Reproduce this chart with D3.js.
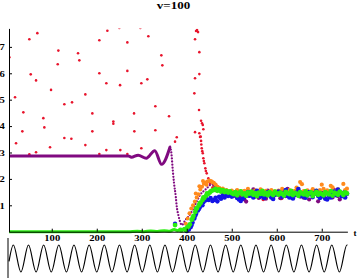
<!DOCTYPE html>
<html>
<head>
<meta charset="utf-8">
<script src="https://cdn.jsdelivr.net/npm/d3@7"></script>
<style>
  body { margin: 0; background: #fff; }
  svg { display: block; }
  text { font-family: "Liberation Serif", "DejaVu Serif", serif; font-weight: bold; }
</style>
</head>
<body>
<div id="root"></div>
<script>
const width = 360;
const height = 278;

// x tick labels / y tick labels
const xTicks = [100, 200, 300, 400, 500, 600, 700];
const yTicks = [1, 2, 3, 4, 5, 6, 7];

// red scattered points (t, value)
const redPts = [
  [5.8, 6.61], [68, 7.52], [50.2, 7.29], [114.7, 6.86], [113.3, 6.34], [53.3, 5.96], [65.1, 5.73],
  [18.4, 5.09], [98.4, 5.37], [36.9, 4.52], [128, 4.83], [145.1, 4.9], [158.4, 6.76], [161.3, 6.49],
  [174.7, 5.2], [190.2, 4.48], [205.8, 7.25], [223.6, 7.61], [205.8, 6.0], [221.3, 5.62], [250.2, 7.72],
  [296.9, 7.72], [268, 7.17], [268, 6.09], [251.8, 5.55], [314.7, 7.4], [299.1, 5.62], [312.4, 5.77],
  [343.6, 6.68], [345.8, 6.3], [330.2, 4.75], [360.7, 4.37], [236.9, 4.17], [236.9, 4.09], [282.9, 4.48],
  [81.3, 4.3], [83.6, 3.95], [34.7, 3.8], [128, 3.55], [143.6, 3.52], [190.2, 3.8], [283.6, 3.8],
  [330.2, 3.84], [20.7, 3.35], [50.2, 2.93], [65.1, 3.01], [96.2, 3.2], [174.7, 3.28], [205.8, 2.94],
  [221.3, 3.09], [252.4, 3.09], [268, 2.94], [299.1, 3.16], [314.7, 2.84], [374, 3.41], [377.8, 3.58],
  [418.4, 3.77], [427.3, 4.61], [429.6, 3.59]
];
// red fast drop
const redDrop = [
  [416.9, 5.24], [418.4, 5.81], [418.4, 7.29], [420.7, 7.6], [422.9, 7.64], [425.1, 7.56], [428, 6.8],
  [428, 5.97], [428, 3.73], [431.1, 3.6], [431.8, 4.2], [434, 4.11], [435.6, 4.04], [436.9, 3.88],
  [431.8, 3.44], [432.4, 3.3], [433.3, 3.16], [435.6, 2.97], [436.9, 2.78], [439.1, 2.59], [441.3, 2.4],
  [444.4, 2.21], [448, 2.02], [451.8, 1.83], [434.5, 3.05], [438, 2.68], [442.5, 2.3]
];
// red inside the band
const redBand = [
  [458, 1.66], [466, 1.55], [480, 1.48], [500, 1.4], [525, 1.45], [550, 1.38], [570, 1.22], [590, 1.45],
  [611, 1.26], [640, 1.42], [665, 1.5], [690, 1.4], [715, 1.46], [740, 1.38], [755, 1.44]
];

// purple: flat + oscillation, then fast drop
const purpleFlat = [
  [5, 2.87], [270, 2.87], [277, 2.82], [292, 2.9], [310, 2.78], [329, 3.07], [344, 2.55], [363, 3.22]
];
const purpleDrop = [
  [363, 3.22], [366, 2.95], [368.9, 2.34], [371.8, 1.83], [375.6, 1.33], [377.8, 0.95], [381.3, 0.63],
  [385.1, 0.38], [388.9, 0.25], [392.4, 0.3], [396.2, 0.42], [403.6, 0.57], [411.1, 0.76], [414.7, 0.89],
  [422.2, 1.14], [429.6, 1.39], [440.7, 1.58], [451.8, 1.77]
];

// green near zero, then rise
const greenLow = [
  [5, 0], [270, 0], [290, 0.02], [305, 0], [320, 0.03], [335, 0.01], [350, 0.04], [362, 0.02],
  [372, 0.08], [380, 0.04], [386, 0.1], [390, 0.06]
];
const greenRise = [
  [374, 0.25], [388, 0.05], [395, 0.1], [401, 0.16], [407, 0.28], [411, 0.45], [415, 0.6], [419, 0.75],
  [423, 0.9], [427, 1.0], [431, 1.1], [435, 1.2], [439, 1.28], [443, 1.36], [447, 1.42], [451, 1.48],
  [455, 1.55], [398, 0.06], [404, 0.2], [413, 0.52], [421, 0.86], [429, 1.08], [437, 1.3], [445, 1.45],
  [453, 1.52]
];
const blueRise = [
  [374, 0.3], [400, 0.02], [405, 0.08], [409, 0.18], [413, 0.35], [417, 0.5], [421, 0.68], [425, 0.8],
  [429, 0.92], [433, 1.04], [437, 1.12], [441, 1.18], [445, 1.22], [449, 1.2], [453, 1.28], [457, 1.16],
  [411, 0.25], [419, 0.6], [427, 0.86], [435, 1.0], [443, 1.25]
];
const orangeRise = [
  [398, 0.3], [402, 0.5], [406, 0.7], [410, 0.88], [414, 1.0], [418, 1.14], [422, 1.3], [426, 1.42],
  [430, 1.6], [434, 1.7], [438, 1.82], [442, 1.86], [446, 1.9], [450, 1.94], [454, 1.92], [457, 1.88],
  [420, 1.45], [428, 1.72], [436, 1.92], [444, 1.78]
];

// sample times of the noisy band
const bandT = [
  460, 464, 468, 472, 476, 480, 484, 488, 492, 496, 500,
  504, 508, 512, 516, 520, 524, 528, 532, 536, 540, 544, 548, 552, 556, 560, 564, 568, 572, 576, 580, 584, 588, 592, 596, 600,
  604, 608, 612, 616, 620, 624, 628, 632, 636, 640, 644, 648, 652, 656, 660, 664, 668, 672, 676, 680, 684, 688, 692, 696, 700,
  704, 708, 712, 716, 720, 724, 728, 732, 736, 740, 744, 748, 752, 756
];
const greenBand = [
  1.58, 1.62, 1.55, 1.6, 1.52, 1.57, 1.5, 1.55, 1.48, 1.53, 1.46,
  1.42, 1.5, 1.38, 1.47, 1.53, 1.41, 1.45, 1.36, 1.49, 1.44, 1.52, 1.4, 1.46, 1.35, 1.48, 1.43, 1.55, 1.41, 1.47, 1.38, 1.5, 1.44, 1.39, 1.52, 1.45,
  1.4, 1.48, 1.43, 1.37, 1.51, 1.46, 1.42, 1.55, 1.39, 1.47, 1.44, 1.36, 1.5, 1.45, 1.41, 1.53, 1.38, 1.46, 1.49, 1.35, 1.44, 1.51, 1.4, 1.47, 1.43,
  1.38, 1.5, 1.45, 1.41, 1.54, 1.37, 1.48, 1.44, 1.4, 1.52, 1.46, 1.39, 1.49, 1.45
];
const blueBand = [
  1.2, 1.28, 1.15, 1.32, 1.25, 1.38, 1.3, 1.42, 1.35, 1.4, 1.33,
  1.45, 1.38, 1.28, 1.22, 1.16, 1.25, 1.32, 1.43, 1.5, 1.36, 1.41, 1.3, 1.47, 1.55, 1.38, 1.33, 1.44, 1.28, 1.36, 1.5, 1.42, 1.3, 1.24, 1.39, 1.46,
  1.52, 1.4, 1.33, 1.45, 1.58, 1.36, 1.3, 1.42, 1.26, 1.38, 1.48, 1.62, 1.4, 1.34, 1.44, 1.29, 1.37, 1.5, 1.43, 1.31, 1.46, 1.55, 1.35, 1.28, 1.4,
  1.33, 1.25, 1.22, 1.36, 1.3, 1.45, 1.52, 1.38, 1.6, 1.42, 1.34, 1.47, 1.3, 1.44
];
const orangeBand = [
  1.85, 1.78, 1.7, 1.66, 1.6, 1.63, 1.55, 1.58, 1.52, 1.49, 1.56,
  1.5, 1.44, 1.58, 1.47, 1.53, 1.4, 1.55, 1.48, 1.62, 1.45, 1.51, 1.38, 1.57, 1.49, 1.43, 1.6, 1.52, 1.46, 1.55, 1.41, 1.5, 1.58, 1.47, 1.53, 1.44,
  1.56, 1.49, 1.62, 1.45, 1.52, 1.4, 1.58, 1.5, 1.47, 1.55, 1.67, 1.6, 1.88, 1.8, 1.54, 1.48, 1.57, 1.44, 1.52, 1.61, 1.49, 1.55, 1.46, 1.58, 1.78,
  1.62, 1.5, 1.57, 1.45, 1.74, 1.68, 1.55, 1.49, 1.6, 1.52, 1.47, 1.81, 1.58, 1.63
];
const purpleBand = [
  1.8, 1.74, 1.68, 1.62, 1.55, 1.6, 1.5, 1.44, 1.52, 1.38, 1.47,
  1.35, 1.48, 1.55, 1.4, 1.3, 1.45, 1.22, 1.14, 1.36, 1.5, 1.42, 1.6, 1.33, 1.46, 1.28, 1.52, 1.39, 1.44, 1.25, 1.56, 1.37, 1.48, 1.31, 1.43, 1.5,
  1.4, 1.27, 1.53, 1.46, 1.35, 1.62, 1.41, 1.3, 1.49, 1.38, 1.56, 1.44, 1.33, 1.47, 1.29, 1.52, 1.4, 1.22, 1.45, 1.36, 1.55, 1.43, 1.15, 1.32, 1.48,
  1.41, 1.26, 1.5, 1.37, 1.45, 1.3, 1.58, 1.42, 1.35, 1.22, 1.47, 1.39, 1.53, 1.44
];

// forcing signal below the plot: times of its extremes and their values
const forceT = [
  5, 14.6, 31.5, 48.3, 65.2, 82, 98.9, 115.7, 132.6, 149.4, 166.3, 183.1, 200, 216.8, 233.7, 250.5,
  267.4, 284.2, 301.1, 317.9, 334.8, 351.6, 368.5, 385.3, 402.2, 419, 435.9, 452.7, 469.6, 486.4,
  503.3, 520.1, 537, 553.8, 570.7, 587.5, 604.4, 621.2, 638.1, 654.9, 671.8, 688.6, 705.5, 722.3,
  739.2, 756, 757
];
const forceV = [
  -0.22, 1, -1, 1, -1, 1, -1, 1, -1, 1, -1, 1, -1, 1, -1, 1,
  -1, 1, -1, 1, -1, 1, -1, 1, -1, 1, -1, 1, -1, 1,
  -1, 1, -1, 1, -1, 1, -1, 1, -1, 1, -1, 1, -1, 1,
  -1, 1, 0.99
];

const colors = {
  red: '#e8142c',
  purple: '#800a80',
  orange: '#ff8a1c',
  blue: '#1414e6',
  green: '#2aee10'
};

const svg = d3.select('#root')
  .append('svg')
  .attr('width', width)
  .attr('height', height);

svg.append('rect').attr('width', width).attr('height', height).attr('fill', '#fff');

const x = d3.scaleLinear().domain([5, 757]).range([9, 347.4]);
const y = d3.scaleLinear().domain([0, 7.7]).range([231.7, 28.4]);
const ys = d3.scaleLinear().domain([-1, 1]).range([272, 245]);

svg.append('clipPath').attr('id', 'plotclip')
  .append('rect').attr('x', 9).attr('y', 28.4).attr('width', 342).attr('height', 212);

const plot = svg.append('g').attr('clip-path', 'url(#plotclip)');

const line = d3.line().x(d => x(d[0])).y(d => y(d[1])).curve(d3.curveMonotoneX);

const dots = (data, color, r) => {
  plot.append('g')
    .selectAll('circle')
    .data(data)
    .join('circle')
    .attr('cx', d => x(d[0]))
    .attr('cy', d => y(d[1]))
    .attr('r', r)
    .attr('fill', color);
};

const band = vals => vals.map((v, i) => [bandT[i], v]);

// red first
dots(redPts, colors.red, 1.3);
dots(redDrop, colors.red, 1.3);
dots(redBand, colors.red, 1.8);

// purple
plot.append('path')
  .attr('d', line(purpleFlat))
  .attr('fill', 'none')
  .attr('stroke', colors.purple)
  .attr('stroke-width', 3);
plot.append('path')
  .attr('d', line(purpleDrop))
  .attr('fill', 'none')
  .attr('stroke', colors.purple)
  .attr('stroke-width', 2.3)
  .attr('stroke-linecap', 'round')
  .attr('stroke-dasharray', '0,3');
dots(band(purpleBand), colors.purple, 2.1);

// orange
dots(orangeRise, colors.orange, 2);
dots(band(orangeBand), colors.orange, 2.1);

// blue
dots(blueRise, colors.blue, 2.2);
dots(band(blueBand), colors.blue, 2.3);

// green
plot.append('path')
  .attr('d', line(greenLow))
  .attr('fill', 'none')
  .attr('stroke', colors.green)
  .attr('stroke-width', 3);
dots(greenRise, colors.green, 2.4);
dots(band(greenBand), colors.green, 2.4);

// axes
const styleAxis = (g, sx) => {
  g.select('.domain').attr('stroke', '#000').attr('stroke-width', 1);
  g.selectAll('.tick line').attr('stroke', '#000');
  g.selectAll('.tick text')
    .attr('font-size', 9)
    .attr('font-family', '"Liberation Serif", serif')
    .attr('font-weight', 'bold')
    .attr('fill', '#000')
    .attr('transform', `scale(${sx},1)`);
};

const xAxis = svg.append('g')
  .attr('transform', `translate(0,${y(0)})`)
  .call(d3.axisBottom(x).tickValues(xTicks).tickSize(-3).tickSizeOuter(0).tickPadding(3));
styleAxis(xAxis, 1.18);
xAxis.selectAll('.tick text').attr('y', 2.5).attr('dy', '0.71em');

const yAxis = svg.append('g')
  .attr('transform', `translate(${x(5)},0)`)
  .call(d3.axisLeft(y).tickValues(yTicks).tickSize(-3).tickSizeOuter(0).tickPadding(3));
styleAxis(yAxis, 1.18);
yAxis.selectAll('.tick text').attr('x', -3.5);

// axis label t
svg.append('text')
  .attr('x', 353.5)
  .attr('y', 236)
  .attr('font-size', 9)
  .text('t');

// title
svg.append('text')
  .attr('transform', 'translate(173.5,9) scale(1.3,1)')
  .attr('text-anchor', 'middle')
  .attr('font-size', 10)
  .text('v=100');

// forcing strip
svg.append('line')
  .attr('x1', 8).attr('x2', 8)
  .attr('y1', 238).attr('y2', 278)
  .attr('stroke', '#000')
  .attr('stroke-width', 1);

const forceLine = d3.line()
  .x((d, i) => x(d))
  .y((d, i) => ys(forceV[i]))
  .curve(d3.curveMonotoneX);

svg.append('path')
  .attr('d', forceLine(forceT))
  .attr('fill', 'none')
  .attr('stroke', '#000')
  .attr('stroke-width', 1.2);
</script>
</body>
</html>
